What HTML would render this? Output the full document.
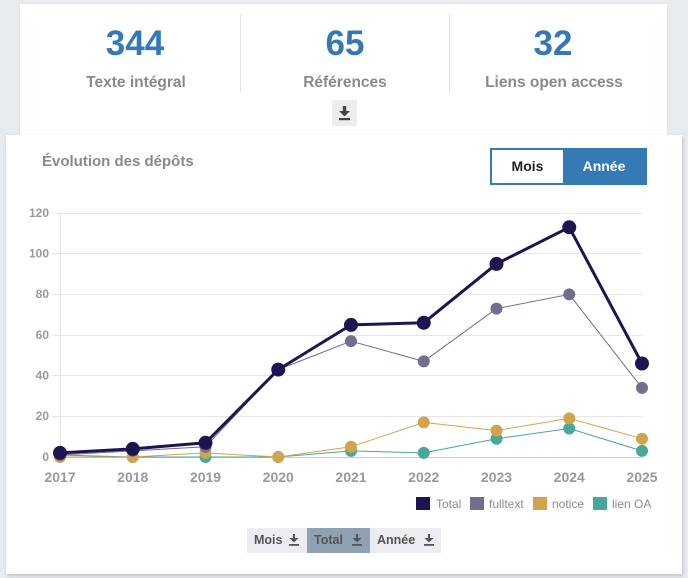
<!DOCTYPE html>
<html><head><meta charset="utf-8">
<style>
*{margin:0;padding:0;box-sizing:border-box}
html,body{width:688px;height:578px;background:#e9ecef;overflow:hidden;font-family:"Liberation Sans",Arial,sans-serif}
.card1{position:absolute;left:20px;top:4px;width:647px;height:131px;background:#fff;box-shadow:0 1px 3px rgba(0,0,0,.08)}
.card2{position:absolute;left:6px;top:135px;width:676px;height:439px;background:#fff;box-shadow:1px 2px 4px rgba(0,0,0,.18)}
.num{position:absolute;top:24px;width:200px;text-align:center;font-weight:bold;font-size:35px;color:#3478b8;line-height:40px}
.lbl{position:absolute;top:73px;width:220px;text-align:center;font-weight:bold;font-size:15.5px;color:#8a8a8a;line-height:20px}
.div{position:absolute;top:14px;width:1px;height:78px;background:#e2e2e2}
.dl{position:absolute;left:332px;top:100px;width:25px;height:26px;background:#ecedf1}
.title{position:absolute;left:42px;top:153px;font-weight:bold;font-size:15px;color:#8a8a8a;line-height:18px}
.tog{position:absolute;left:490px;top:148px;width:157px;height:37px;border:2px solid #3579b5;background:#3579b5}
.tog .m{position:absolute;left:0;top:0;width:71px;height:33px;background:#fff;color:#222;font-weight:bold;font-size:14px;text-align:center;line-height:33px}
.tog .a{position:absolute;left:71px;top:0;width:82px;height:33px;color:#fff;font-weight:bold;font-size:14px;text-align:center;line-height:33px}
.btns{position:absolute;left:247px;top:528px;width:194px;height:25px;background:#ecedf1}
.b{position:absolute;top:0;height:25px;line-height:25px;font-weight:bold;font-size:12.5px;color:#555}
svg{position:absolute;left:0;top:0}
</style></head><body>
<div class="card1"></div>
<div class="num" style="left:35px">344</div>
<div class="lbl" style="left:26px">Texte intégral</div>
<div class="num" style="left:245px">65</div>
<div class="lbl" style="left:235px">Références</div>
<div class="num" style="left:453px">32</div>
<div class="lbl" style="left:444px">Liens open access</div>
<div class="div" style="left:240px"></div>
<div class="div" style="left:449px"></div>
<div class="dl"><svg width="25" height="26" viewBox="0 0 25 26"><rect x="10.8" y="6" width="3.4" height="6" fill="#444"/><polygon points="7,11 18,11 12.5,16.5" fill="#444"/><rect x="7" y="18" width="11" height="2.2" fill="#444"/></svg></div>
<div class="card2"></div>
<div class="title">Évolution des dépôts</div>
<div class="tog"><div class="m">Mois</div><div class="a">Année</div></div>

<svg width="688" height="578" viewBox="0 0 688 578" style="pointer-events:none">
<g stroke="#e6e6e6" stroke-width="1">
<line x1="52" y1="213.5" x2="642" y2="213.5"/>
<line x1="52" y1="253.5" x2="642" y2="253.5"/>
<line x1="52" y1="294.5" x2="642" y2="294.5"/>
<line x1="52" y1="335.5" x2="642" y2="335.5"/>
<line x1="52" y1="375.5" x2="642" y2="375.5"/>
<line x1="52" y1="416.5" x2="642" y2="416.5"/>
<line x1="60.5" y1="213" x2="60.5" y2="457"/>
</g>
<line x1="52" y1="457.5" x2="642" y2="457.5" stroke="#cccccc" stroke-width="1"/>
<g font-family="Liberation Sans, Arial, sans-serif" font-weight="bold" font-size="12" fill="#999" text-anchor="end">
<text x="49" y="217">120</text>
<text x="49" y="257.5">100</text>
<text x="49" y="298">80</text>
<text x="49" y="339">60</text>
<text x="49" y="379.5">40</text>
<text x="49" y="420">20</text>
<text x="49" y="461">0</text>
</g>
<g font-family="Liberation Sans, Arial, sans-serif" font-weight="bold" font-size="14" fill="#999" text-anchor="middle">
<text x="60" y="482">2017</text>
<text x="132.75" y="482">2018</text>
<text x="205.5" y="482">2019</text>
<text x="278.25" y="482">2020</text>
<text x="351" y="482">2021</text>
<text x="423.75" y="482">2022</text>
<text x="496.5" y="482">2023</text>
<text x="569.25" y="482">2024</text>
<text x="642" y="482">2025</text>
</g>
<!-- lien OA -->
<polyline fill="none" stroke="#47a89b" stroke-width="1" points="60,455 132.75,457 205.5,457 278.25,457 351,450.9 423.75,452.9 496.5,438.7 569.25,428.5 642,450.9"/>
<g fill="#47a89b">
<circle cx="60" cy="455" r="6"/><circle cx="132.75" cy="457" r="6"/><circle cx="205.5" cy="457" r="6"/><circle cx="278.25" cy="457" r="6"/><circle cx="351" cy="450.9" r="6"/><circle cx="423.75" cy="452.9" r="6"/><circle cx="496.5" cy="438.7" r="6"/><circle cx="569.25" cy="428.5" r="6"/><circle cx="642" cy="450.9" r="6"/>
</g>
<!-- notice -->
<polyline fill="none" stroke="#d1a54f" stroke-width="1" points="60,457 132.75,457 205.5,452.9 278.25,457 351,446.8 423.75,422.4 496.5,430.6 569.25,418.4 642,438.7"/>
<g fill="#d1a54f">
<circle cx="60" cy="457" r="6"/><circle cx="132.75" cy="457" r="6"/><circle cx="205.5" cy="452.9" r="6"/><circle cx="278.25" cy="457" r="6"/><circle cx="351" cy="446.8" r="6"/><circle cx="423.75" cy="422.4" r="6"/><circle cx="496.5" cy="430.6" r="6"/><circle cx="569.25" cy="418.4" r="6"/><circle cx="642" cy="438.7" r="6"/>
</g>
<!-- fulltext -->
<polyline fill="none" stroke="#736e8e" stroke-width="1" points="60,455 132.75,450.9 205.5,446.8 278.25,369.6 351,341.1 423.75,361.4 496.5,308.6 569.25,294.4 642,387.9"/>
<g fill="#736e8e">
<circle cx="60" cy="455" r="6"/><circle cx="132.75" cy="450.9" r="6"/><circle cx="205.5" cy="446.8" r="6"/><circle cx="278.25" cy="369.6" r="6"/><circle cx="351" cy="341.1" r="6"/><circle cx="423.75" cy="361.4" r="6"/><circle cx="496.5" cy="308.6" r="6"/><circle cx="569.25" cy="294.4" r="6"/><circle cx="642" cy="387.9" r="6"/>
</g>
<!-- Total -->
<polyline fill="none" stroke="#1f1452" stroke-width="3" stroke-linejoin="round" points="60,452.9 132.75,448.9 205.5,442.8 278.25,369.6 351,324.9 423.75,322.8 496.5,263.9 569.25,227.3 642,363.5"/>
<g fill="#1f1452">
<circle cx="60" cy="452.9" r="7"/><circle cx="132.75" cy="448.9" r="7"/><circle cx="205.5" cy="442.8" r="7"/><circle cx="278.25" cy="369.6" r="7"/><circle cx="351" cy="324.9" r="7"/><circle cx="423.75" cy="322.8" r="7"/><circle cx="496.5" cy="263.9" r="7"/><circle cx="569.25" cy="227.3" r="7"/><circle cx="642" cy="363.5" r="7"/>
</g>
<!-- legend -->
<g font-family="Liberation Sans, Arial, sans-serif" font-size="12" fill="#8c8c8c">
<rect x="416" y="497" width="14" height="13" fill="#1f1452"/><text x="436" y="508">Total</text>
<rect x="470" y="497" width="14" height="13" fill="#736e8e"/><text x="489" y="508">fulltext</text>
<rect x="533" y="497" width="14" height="13" fill="#d1a54f"/><text x="552" y="508">notice</text>
<rect x="593" y="497" width="14" height="13" fill="#47a89b"/><text x="612" y="508">lien OA</text>
</g>
</svg>

<div class="btns">
  <div style="position:absolute;left:60px;top:0;width:63px;height:25px;background:#8fa2b3"></div>
  <div class="b" style="left:7px">Mois</div>
  <div class="b" style="left:67px">Total</div>
  <div class="b" style="left:130px">Année</div>
  <svg width="194" height="25" viewBox="0 0 194 25">
    <g fill="#555">
      <rect x="46" y="6" width="2" height="5"/><polygon points="42.5,10 51.5,10 47,14.5"/><rect x="42" y="16" width="10" height="1.8"/>
      <rect x="109" y="6" width="2" height="5"/><polygon points="105.5,10 114.5,10 110,14.5"/><rect x="105" y="16" width="10" height="1.8"/>
      <rect x="181" y="6" width="2" height="5"/><polygon points="177.5,10 186.5,10 182,14.5"/><rect x="177" y="16" width="10" height="1.8"/>
    </g>
  </svg>
</div>
</body></html>
